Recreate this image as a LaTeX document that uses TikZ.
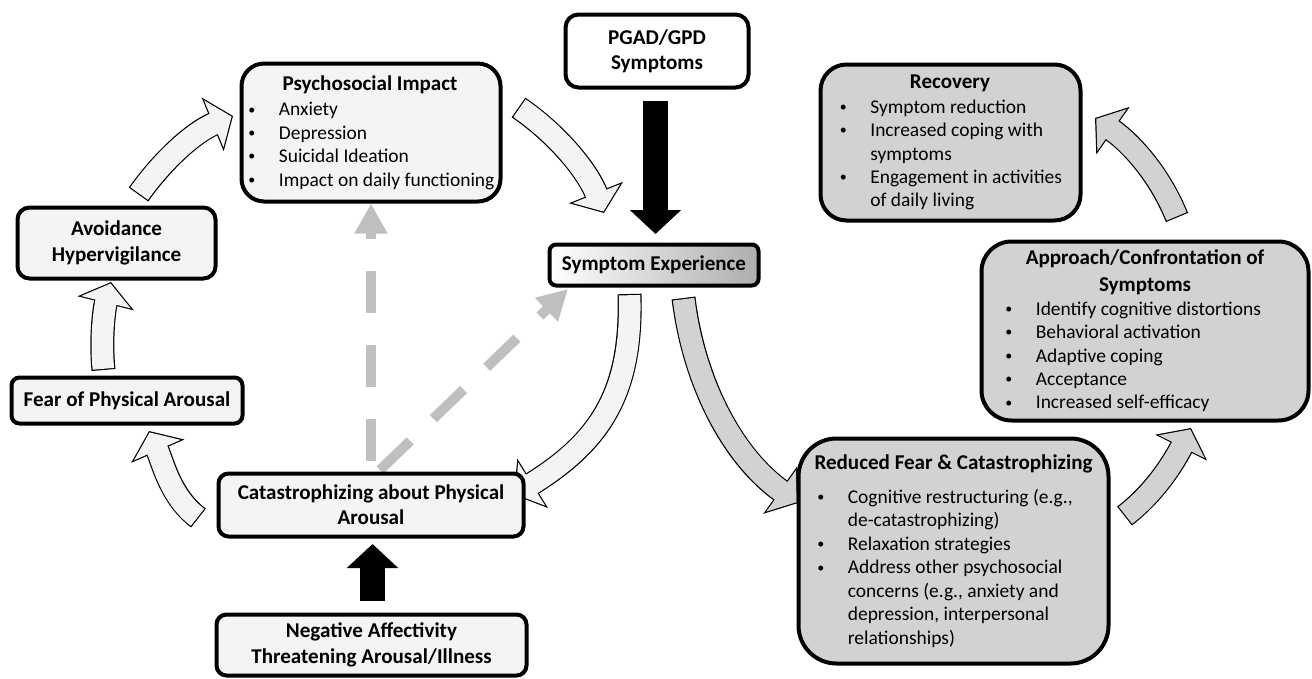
\documentclass[tikz,border=0pt]{standalone}
\usepackage{fontspec}
\setmainfont{Carlito}
\usetikzlibrary{arrows.meta,backgrounds}

\definecolor{lightfill}{RGB}{243,244,243}
\definecolor{darkfill}{RGB}{209,210,209}
\definecolor{dashgray}{RGB}{191,191,191}

% list lines inside the boxes
\newcommand{\ttl}[1]{\hbox to \hsize{\hss\fontsize{15.8}{19}\selectfont\bfseries #1\hss}}
\newcommand{\bulletmark}{\hskip 0.6pt\raisebox{1.3pt}{\fontsize{10.5}{10.5}\selectfont\textbullet}}
\newcommand{\itm}[1]{\hbox{\makebox[23.5pt][l]{\bulletmark}#1}}
\newcommand{\cnt}[1]{\hbox{\hskip 23.5pt #1}}
% outlined block arrow: colour, path
\newcommand{\flowarrow}[2]{%
  \draw[flow outer] #2;
  \draw[flow inner, draw=#1] #2;}

\begin{document}
\begin{tikzpicture}[x=0.75pt,y=-0.75pt]
\tikzset{box/.style = {shape=rectangle, draw, line width=3pt, fill=lightfill, inner sep=0pt, font=\fontsize{14.6}{17.6}\selectfont}}
\tikzset{label box/.style = {box, font=\fontsize{15.8}{19}\selectfont\bfseries, align=center}}
\tikzset{flow outer/.style = {draw=black, line width=18pt, -{Triangle[length=16.5pt,width=42.75pt]}}}
\tikzset{flow inner/.style = {line width=16.2pt, shorten <=0.9pt, shorten >=1.14pt, -{Triangle[length=14.46pt,width=37.45pt]}}}
\tikzset{push/.style = {draw=black, line width=18.75pt, -{Triangle[length=18pt,width=37.5pt]}}}
\tikzset{hint/.style = {draw=dashgray, line width=7.5pt, dash pattern=on 31.5pt off 24pt, -{Triangle[length=22.5pt,width=23.25pt]}}}
\useasboundingbox (0,0) rectangle (1312,678);

\node[label box, fill=white, minimum width=137.25pt, minimum height=54.75pt, rounded corners=9.75pt] (pgad) at (657,51) {PGAD/GPD\\Symptoms};
\node[box, minimum width=194.25pt, minimum height=103.5pt, rounded corners=17pt] (psy) at (371,132.5)
  {\parbox{183.75pt}{\ttl{Psychosocial Impact}\vskip 1.5pt\itm{Anxiety}\itm{Depression}\itm{Suicidal Ideation}\itm{Impact on daily functioning}}};
\node[label box, minimum width=148.5pt, minimum height=53.25pt, rounded corners=9pt] (avoid) at (116.5,243) {Avoidance\\Hypervigilance};
\node[label box, minimum width=173.25pt, minimum height=34.5pt, rounded corners=6pt] (fear) at (127,400.5) {Fear of Physical Arousal};
\node[label box, minimum width=228.75pt, minimum height=47.25pt, rounded corners=7.5pt] (cat) at (371,505) {Catastrophizing about Physical\\Arousal};
\node[label box, minimum width=232.5pt, minimum height=45.75pt, rounded corners=7.5pt] (neg) at (371.5,645) {Negative Affectivity\\Threatening Arousal/Illness};
\node[label box, left color=white, right color=black!32, minimum width=156.75pt, minimum height=30.75pt, rounded corners=5pt] (symp) at (654,265) {Symptom Experience};
\node[box, fill=darkfill, minimum width=195pt, minimum height=117pt, rounded corners=19.5pt] (rec) at (950.5,142.5)
  {\parbox{166.5pt}{\ttl{Recovery}\vskip 1pt\itm{Symptom reduction}\itm{Increased coping with}\cnt{symptoms}\itm{Engagement in activities}\cnt{of daily living}}};
\node[box, fill=darkfill, minimum width=245.25pt, minimum height=134.25pt, rounded corners=22.5pt] (appr) at (1145,331)
  {\parbox{210.75pt}{\ttl{Approach/Confrontation of}\vskip 2.6pt\ttl{Symptoms}\itm{Identify cognitive distortions}\itm{Behavioral activation}\itm{Adaptive coping}\itm{Acceptance}\itm{Increased self-efficacy}}};
\node[box, fill=darkfill, minimum width=232.5pt, minimum height=168.75pt, rounded corners=28.5pt] (red) at (953.5,551)
  {\parbox{205.5pt}{\ttl{Reduced Fear \& Catastrophizing}\vskip 8pt\itm{Cognitive restructuring (e.g.,}\cnt{de-catastrophizing)}\itm{Relaxation strategies}\itm{Address other psychosocial}\cnt{concerns (e.g., anxiety and}\cnt{depression, interpersonal}\cnt{relationships)}}};

\begin{scope}[on background layer]
% vicious circle
\flowarrow{lightfill}{([shift={(22,-11)}]avoid.north) .. controls +(24,-34) and +(-39,16) .. ([shift={(-6.5,-16.5)}]psy.west)}
\flowarrow{lightfill}{([shift={(16,-25)}]psy.east) .. controls +(38,26) and +(-17,-43) .. ([shift={(-50,-29.5)}]symp.north)}
\flowarrow{lightfill}{([shift={(-23.5,-5.5)}]fear.north) .. controls +(-3,-31) and +(-7,28) .. ([shift={(-5.5,1.5)}]avoid.south)}
\flowarrow{lightfill}{([shift={(-18,13)}]cat.west) .. controls +(-28,-21) and +(14,32) .. ([shift={(22,5.5)}]fear.south)}
\flowarrow{lightfill}{([shift={(-24.5,6.5)}]symp.south) .. controls +(3,100) and +(85,-53) .. ([shift={(-11.5,-10)}]cat.east)}
% recovery path
\flowarrow{darkfill}{([shift={(29.5,10.5)}]symp.south) .. controls +(10,82) and +(-67,-48) .. ([shift={(1.5,-48)}]red.west)}
\flowarrow{darkfill}{([shift={(14,-35)}]red.east) .. controls +(30,-23) and +(-17,34) .. ([shift={(46,5.5)}]appr.south)}
\flowarrow{darkfill}{([shift={(32,-22)}]appr.north) .. controls +(-17,-42) and +(37,26) .. ([shift={(12.5,-24.5)}]rec.east)}
% inputs
\draw[push] ([shift={(-1.5,11.5)}]pgad.south) -- ([shift={(1.5,-8.5)}]symp.north);
\draw[push] ([shift={(1,-11.5)}]neg.north) -- ([shift={(1.5,5.5)}]cat.south);
\draw[hint, dash phase=47.6pt] (cat.north) -- (psy.south);
\draw[hint] ([shift={(9,-1.5)}]cat.north) -- ([shift={(20.5,1.5)}]symp.south west);
\end{scope}
\end{tikzpicture}
\end{document}
